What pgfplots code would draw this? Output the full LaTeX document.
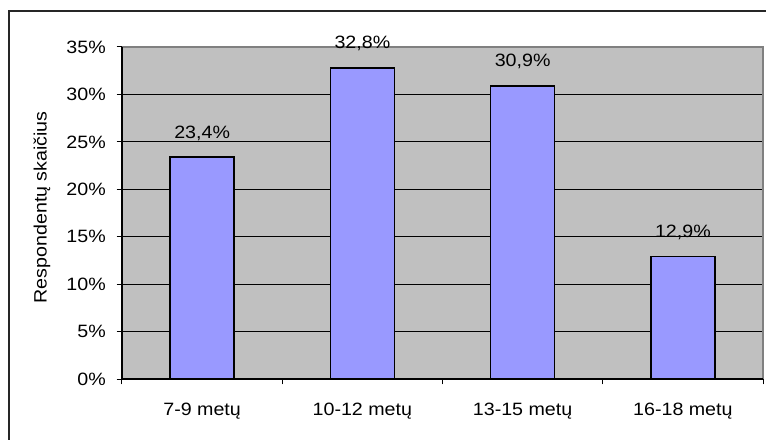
\documentclass[border=0pt]{standalone}
\usepackage{pgfplots}
\pgfplotsset{compat=1.18}
\usepackage{fontspec}
\setmainfont{Liberation Sans}[FakeStretch=1.1]
\definecolor{plotbg}{HTML}{C0C0C0}
\definecolor{barfill}{HTML}{9999FF}
\definecolor{plotborder}{HTML}{808080}
\begin{document}
\fontsize{13.4pt}{15pt}\selectfont
\begin{tikzpicture}
\useasboundingbox (-91.5pt,-45pt) rectangle (483pt,284.25pt);
\draw[line width=1.1pt, black!85] (-84.75pt,-46pt) -- (-84.75pt,276pt) -- (484pt,276pt);
\begin{axis}[
  at={(0pt,0pt)}, anchor=south west,
  scale only axis, width=480.75pt, height=249pt,
  xmin=-0.5, xmax=3.5, ymin=0, ymax=35,
  clip=false,
  axis background/.style={fill=plotbg},
  axis line style={draw=none},
  ybar, bar width=48pt,
  /pgf/number format/assume math mode=true,
  ytick={0,5,...,35},
  yticklabel={\pgfmathprintnumber{\tick}\%},
  yticklabel style={xshift=-3.5pt},
  xtick={-0.5,0.5,1.5,2.5,3.5},
  xticklabels={},
  extra x ticks={0,1,2,3},
  extra x tick labels={7-9 metų,10-12 metų,13-15 metų,16-18 metų},
  extra x tick style={major tick length=0pt, xticklabel style={yshift=-13pt}},
  tick align=outside, xtick pos=bottom, ytick pos=left,
  major tick length=4pt,
  tick style={black, line width=0.75pt},
  ymajorgrids, grid style={black, line width=0.6pt},
  ylabel={Respondentų skaičius},
  ylabel style={at={(axis description cs:-0.1175,0.517)}, anchor=base},
]
\addplot[fill=barfill, draw=black, line width=1.05pt,
  nodes near coords, point meta=explicit symbolic,
  every node near coord/.append style={anchor=base, inner sep=0pt, yshift=14.25pt, black}]
  coordinates {(0,23.4) [23,4\%] (1,32.8) [32,8\%] (2,30.9) [30,9\%] (3,12.9) [12,9\%]};
\draw[plotborder, line width=0.9pt] (rel axis cs:0,1) -- (rel axis cs:1,1) -- (rel axis cs:1,0);
\draw[black, line width=0.9pt] (rel axis cs:0,1) -- (rel axis cs:0,0) -- (rel axis cs:1,0);
\end{axis}
\end{tikzpicture}
\end{document}
